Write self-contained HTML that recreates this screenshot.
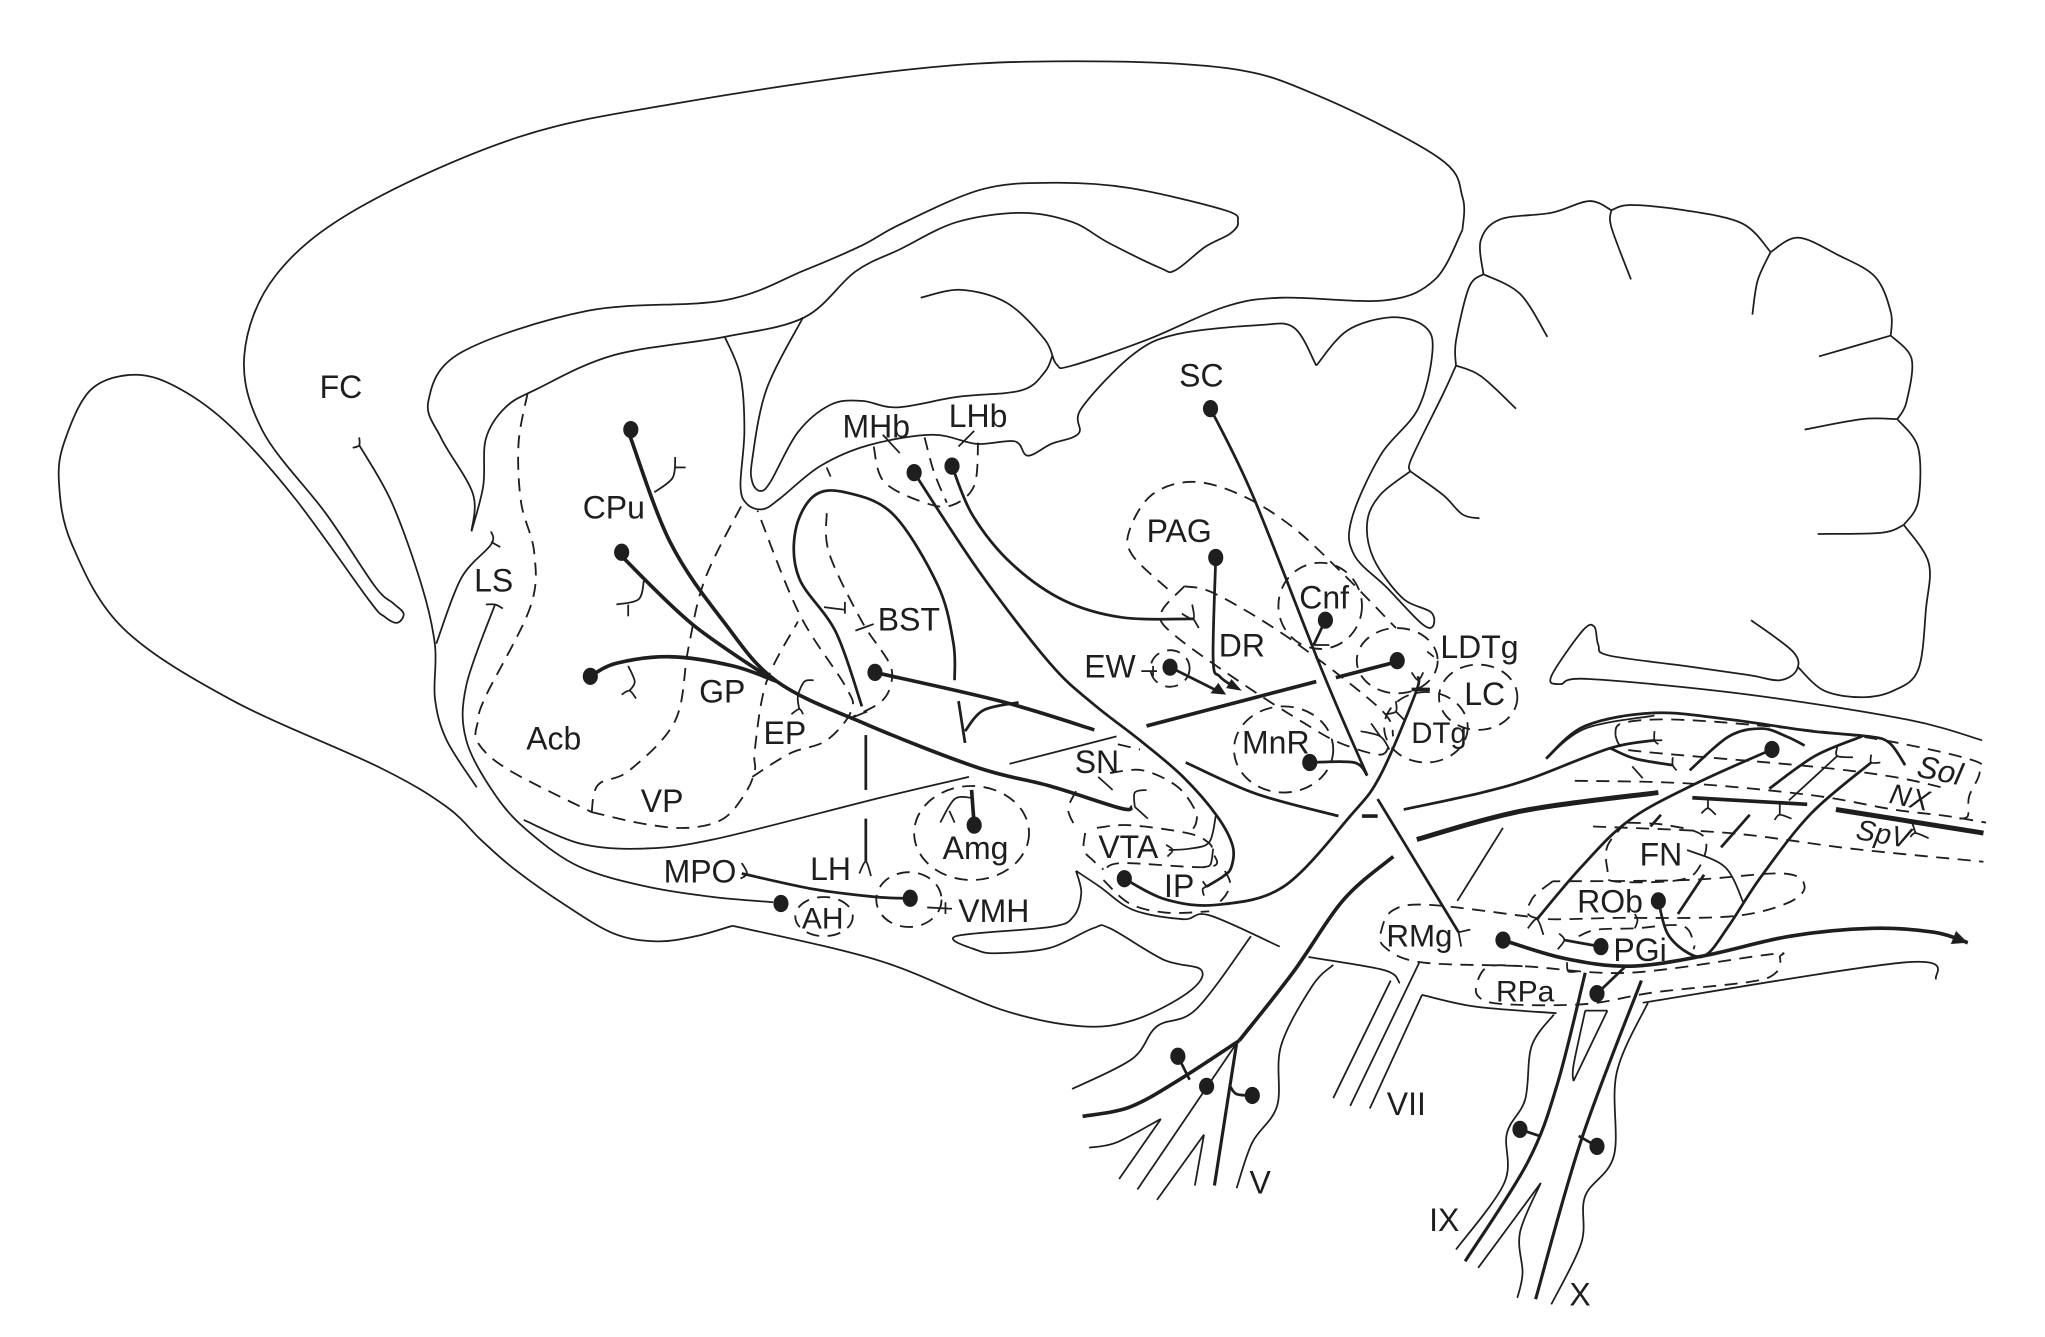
<!DOCTYPE html>
<html><head><meta charset="utf-8"><style>
html,body{margin:0;padding:0;background:#fff}
svg{display:block}
text{font-family:"Liberation Sans",sans-serif;font-size:24.5px;fill:#1e1e1e;text-anchor:middle}
path{fill:none;stroke:#1e1e1e;stroke-linecap:butt;stroke-linejoin:round}
.t path{stroke-width:1.35}
.d path{stroke-width:1.4;stroke-dasharray:10 6.5}
.m path{stroke-width:2.1}
.n path{stroke-width:2.4}
.b path{stroke-width:2.8}
.x path{stroke-width:3.8}
.f path{stroke-width:1.35}
ellipse.dot{fill:#1e1e1e}
ellipse.da{fill:none;stroke:#1e1e1e;stroke-width:1.4;stroke-dasharray:10 6.5}
polygon{fill:#1e1e1e}
</style></head><body>
<svg xmlns="http://www.w3.org/2000/svg" width="2045" height="1337" viewBox="0 0 1566 1024">
<g class="t s">
<path d="M 1120 176 L 1120 151 L 1102 121 L 1011 74 L 938 52 L 806 47 L 689 54 L 519 79 L 397 105 L 275 159 L 211 211 L 187 272 L 201 330 L 250 394 L 287 449 L 301 462 L 309 470 L 304 477 L 294 472 L 282 459 L 226 382 L 177 327 L 138 298 L 104 287 L 70 298 L 50 336 L 45 369 L 55 417 L 94 481 L 177 536 L 291 588 L 342 618 L 368 643 L 393 665 L 431 692 L 470 715 L 503 721 L 533 717 L 561 709"/>
<path d="M 561 709 L 674 736 L 766 773 L 828 786 L 869 781 L 910 760 L 920 743 L 891 735 L 850 711 L 837 711 L 804 726 L 766 730 L 749 728 L 732 717 L 804 710 L 822 702 L 828 684 L 824 667 M 824 667 L 842 679 L 868 697 L 906 704 L 926 701 L 980 725"/>
<path d="M 958 717 L 916 773 L 886 786 L 867 811 L 821 834"/>
<path d="M 270 343 L 275 341 L 275 335 M 275 341 L 300 385 L 323 449 L 333 494 L 333 535 L 342 567 L 365 603"/>
<path d="M 361 407 L 362 378 L 338 336 L 328 307 L 353 270 L 450 238 L 555 230 L 616 207 L 660 188 L 689 172 L 752 145 L 806 140 L 865 144 L 938 161 L 948 170 L 942 179 L 923 189 L 900 207 L 888 205 L 849 186 L 821 170 L 783 163 L 733 170 L 689 191 L 655 208 L 616 243 L 555 258 L 470 272 L 411 298 L 387 312 L 372 336 L 370 372 L 361 407"/>
<path d="M 555 258 L 567 288 L 570 330 L 567 372 L 572 386 L 584 390 L 597 382 L 628 357 L 665 341 L 714 333 L 748 340 L 777 338 L 787 349 L 805 340 L 826 332 L 828 313 L 867 272 L 901 256 L 964 249 L 991 251 L 1008 280"/>
<path d="M 1008 280 L 1032 253 L 1066 243 L 1091 250 L 1097 269 L 1086 313 L 1057 349 L 1035 398 L 1037 425 L 1062 450 L 1088 477 L 1097 480 L 1096 469 L 1074 458 L 1052 428 L 1047 400 L 1057 379 L 1080 361"/>
<path d="M 615 243 L 587 298 L 576 352 L 576 369 L 582 376 L 590 369 L 611 331 L 636 310 L 660 307 L 687 312 L 733 304 L 782 299 L 800 285 L 806 272"/>
<path d="M 705 228 L 736 222 L 771 232 L 800 260 L 809 279 L 821 280 L 879 260 L 938 235 L 982 228 L 1061 230 L 1099 214 L 1120 176"/>
<path d="M 1080 361 L 1081 351 L 1105 302 L 1115 280 M 1115 280 L 1115 261 L 1125 220 L 1136 210 M 1136 210 L 1134 184 L 1149 168 L 1188 163 L 1217 154 L 1234 161 M 1234 161 L 1249 157 L 1290 161 L 1334 171 L 1356 193 M 1356 193 L 1377 182 L 1407 195 L 1436 212 L 1448 239 L 1448 257 M 1448 257 L 1464 275 L 1460 308 L 1453 321 M 1453 321 L 1469 343 L 1469 384 L 1458 402 M 1458 402 L 1477 431 L 1475 466 L 1469 513 L 1450 529 L 1426 534 L 1397 529 L 1377 511"/>
<path d="M 1341 475 L 1373 499 L 1376 513 L 1363 521 L 1339 517 L 1290 510 L 1232 502 L 1224 494 L 1221 480 L 1212 483 L 1188 518 L 1195 524 L 1217 520 L 1339 532 L 1460 551 L 1518 567"/>
<path d="M 1234 161 L 1234 174 L 1249 214"/><path d="M 1356 193 L 1346 215 L 1342 241"/><path d="M 1136 210 L 1164 225 L 1185 258"/><path d="M 1115 280 L 1134 288 L 1161 313"/><path d="M 1080 361 L 1105 379 L 1120 394 L 1133 397"/><path d="M 1448 257 L 1393 273"/><path d="M 1453 321 L 1426 321 L 1382 329"/><path d="M 1458 402 L 1441 408 L 1392 409"/>
<path d="M 379 463 L 357 525 L 357 567 L 380 610 L 406 638 L 444 664 L 495 679 L 546 687 L 592 691"/>
<path d="M 372 463 L 379 463 L 385 466"/>
<path d="M 334 493 L 353 443 L 376 417 L 376 407 M 376 415 L 383 419"/>
<path d="M 401 628 L 444 646 L 490 650 L 546 643 L 674 611 L 742 595"/>
<path d="M 773 585 L 855 564"/>
<path d="M 1002 733 L 1060 743 L 1072 753"/><path d="M 1021 739 L 1005 755 L 981 801 L 978 847 L 959 875 L 947 910"/>
<path d="M 1065 751 L 1021 841"/><path d="M 1087 737 L 1034 847"/><path d="M 1089 762 L 1049 849"/>
<path d="M 1089 762 L 1130 771 L 1192 776"/><path d="M 1258 768 L 1460 737 L 1483 750"/>
<path d="M 1151 634 L 1116 690"/>
<path d="M 1190 777 L 1173 801 L 1168 842 L 1154 868 L 1152 906 L 1115 957"/>
<path d="M 1214 774 L 1231 774 M 1214 774 L 1205 816 L 1205 828 M 1205 828 L 1231 774"/>
<path d="M 1180 906 L 1132 971 M 1180 906 L 1164 944 L 1166 975 L 1162 994"/>
<path d="M 1262 768 L 1238 822 L 1236 885 L 1214 916 L 1211 952 L 1188 999"/>
<path d="M 947 799 L 871 911"/>
<path d="M 922 869 L 886 919 M 922 869 L 915 908"/>
<path d="M 889 857 L 857 903 M 889 857 L 855 875 L 834 879"/>
<path d="M 1184 581 L 1214 558 L 1267 548"/>
<path d="M 1292 651 L 1321 664 L 1335 691"/>
</g>
<g class="d s">
<path d="M 404 301 L 397 340 L 399 385 L 409 423 L 406 465 L 372 533 L 366 552 L 366 569 L 390 590 L 453 622"/>
<path d="M 453 622 L 458 601 L 482 590 L 517 552 L 527 497 L 540 443 L 570 383"/>
<path d="M 453 622 L 493 631 L 527 634 L 554 627 L 571 607 L 578 590 L 578 574 L 587 522 L 611 476"/>
<path d="M 576 595 L 605 577 L 633 567 L 652 544 L 647 525 L 612 470 L 580 391"/>
<path d="M 633 393 L 635 424 L 660 476 L 681 508 L 682 525 L 674 538 L 653 549"/>
<path d="M 669 342 L 677 369 L 708 385 L 729 387 L 746 372 L 749 339"/>
<path d="M 708 335 L 715 361 L 725 385"/>
<path d="M 894 451 L 867 425 L 865 406 L 882 379 L 913 369 L 950 379 L 989 403 L 1028 439 L 1069 481"/>
<path d="M 907 449 L 889 470 L 900 487 L 955 526 L 999 554 L 1026 569 L 1057 578 L 1064 569"/>
<path d="M 907 449 L 931 455 L 989 490 L 1057 543 L 1067 564"/>
<path d="M 824 606 L 818 620 L 824 634"/>
<path d="M 850 592 L 875 590 L 901 602 L 915 620 L 916 630 L 912 637"/>
<path d="M 856 570 L 873 574"/>
<path d="M 831 638 L 830 651 L 837 659 L 845 666"/>
<path d="M 840 634 L 865 632 L 909 638 L 925 645 L 929 653 L 926 664 L 860 661 L 846 666"/>
<path d="M 845 674 L 865 692 L 893 699 L 926 698"/>
<path d="M 938 667 L 942 676 L 939 685 L 932 693"/>
<path d="M 1237 563 L 1242 554 L 1277 551 L 1340 555 L 1431 565 L 1510 582 L 1516 592 L 1508 610 L 1507 625 L 1500 627"/>
<path d="M 1237 563 L 1242 572 L 1261 576 L 1387 587 L 1450 595 L 1491 604"/>
<path d="M 1206 598 L 1292 600 L 1387 609 L 1450 620 L 1491 625 L 1521 630"/>
<path d="M 1220 633 L 1324 638 L 1418 650 L 1519 660"/>
<path d="M 1245 630 L 1231 648 L 1231 666 L 1236 675 L 1286 674 L 1302 663 L 1305 641 L 1277 632 L 1245 630"/>
<path d="M 1189 675 L 1173 689 L 1176 703 L 1239 703 L 1324 702 L 1368 692 L 1382 679 L 1365 669 L 1292 674 L 1189 675"/>
<path d="M 1170 702 L 1094 693 L 1067 697 L 1058 712 L 1060 725 L 1088 737 L 1166 740 L 1248 745 L 1355 731 L 1363 733 L 1360 745 L 1340 752 L 1267 760 L 1214 769 L 1151 769 L 1132 763 L 1132 750 L 1141 740 L 1166 740"/>
<path d="M 1209 717 L 1223 712 L 1252 711 L 1288 709 L 1297 722 L 1297 727"/>
</g>
<ellipse class="da" cx="1011" cy="464" rx="32" ry="33"/>
<ellipse class="da" cx="1070" cy="506" rx="31" ry="25"/>
<ellipse class="da" cx="1132" cy="534" rx="30" ry="25"/>
<ellipse class="da" cx="1092" cy="557" rx="32" ry="27"/>
<ellipse class="da" cx="983" cy="574" rx="38" ry="33"/>
<ellipse class="da" cx="896" cy="512" rx="15" ry="14"/>
<ellipse class="da" cx="744" cy="638" rx="44" ry="36"/>
<ellipse class="da" cx="696" cy="689" rx="25" ry="21"/>
<ellipse class="da" cx="631" cy="702" rx="22" ry="15"/>
<g class="m s">
<path d="M 700 362 L 750 438 L 804 508 L 837 539 L 873 567 L 906 595 L 932 625 L 944 648 L 943 664 L 937 671 L 924 679"/>
<path d="M 729 357 L 745 395 L 775 432 L 815 460 L 860 473 L 914 474"/>
<path d="M 660 541 L 640 484 L 612 443 L 609 407 L 623 380 L 647 377 L 684 394 L 718 448 L 730 492 L 731 521"/>
<path d="M 734 537 L 739 569"/>
<path d="M 739 560 L 753 544 L 780 538"/>
<path d="M 663 563 L 663 605"/>
<path d="M 663 627 L 663 660"/>
<path d="M 927 313 L 960 381 L 1013 515 L 1047 594"/>
<path d="M 861 673 L 893 689 L 932 693 L 983 679 L 1034 625 L 1057 594 L 1084 531 L 1086 518"/>
<path d="M 1003 584 L 1037 584 L 1047 594"/>
<path d="M 908 584 L 962 608 L 1025 625"/>
<path d="M 1055 612 L 1117 714"/>
<path d="M 1075 620 L 1135 607 L 1173 596 L 1233 573 L 1267 567"/>
<path d="M 1233 573 L 1252 581 L 1281 586"/>
<path d="M 1357 574 L 1299 600 L 1248 628 L 1211 664 L 1177 704"/>
<path d="M 1294 590 L 1324 564 L 1349 558 L 1368 564 L 1382 571"/>
<path d="M 1355 604 L 1390 579 L 1426 564"/>
<path d="M 1433 584 L 1387 623 L 1349 671 L 1324 709 L 1307 731 L 1293 730 L 1277 715 L 1270 690"/>
<path d="M 1264 633 L 1272 624"/><path d="M 1318 649 L 1340 624"/><path d="M 1285 700 L 1305 670"/>
<path d="M 1226 725 L 1198 720"/>
<path d="M 1223 761 L 1245 740"/>
<path d="M 931 427 L 929 505 L 934 518 L 945 526"/>
<path d="M 896 511 L 936 531"/>
<path d="M 1015 475 L 1006 494"/>
<path d="M 1184 581 L 1214 556 L 1267 546 L 1324 551 L 1387 560 L 1431 564 L 1447 569 L 1459 586"/>
<path d="M 568 669 L 623 681 L 671 687 L 697 688"/>
<path d="M 1164 865 L 1179 870"/><path d="M 1223 878 L 1209 870"/>
<path d="M 959 839 L 947 838 L 942 832"/><path d="M 902 809 L 911 827"/>
</g>
<g class="n s">
<path d="M 947 799 L 930 908"/>
<path d="M 1257 751 L 1211 873 L 1176 995"/>
<path d="M 1214 745 L 1193 829 L 1170 890 L 1122 966"/>
</g>
<g class="b s">
<path d="M 482 333 L 513 415 L 554 476 L 595 522 L 664 555 L 749 588 L 804 602 L 858 619 L 867 618"/>
<path d="M 476 426 L 530 478 L 592 521"/>
<path d="M 452 518 L 472 508 L 513 503 L 561 510 L 595 522"/>
<path d="M 670 515 L 766 537 L 838 559"/>
<path d="M 744 605 L 746 632"/>
<path d="M 878 556 L 1008 522"/><path d="M 1023 519 L 1069 507"/>
<path d="M 1043 625 L 1055 625"/>
<path d="M 1081 528 L 1095 528"/>
<path d="M 1151 720 L 1198 734 L 1248 740 L 1305 732 L 1371 717 L 1434 711 L 1481 714 L 1507 722"/>
<path d="M 1067 656 L 1029 689 L 990 745 L 949 797"/>
<path d="M 949 797 L 903 827 L 865 848 L 829 855"/>
<path d="M 1296 611 L 1384 616"/>
</g>
<g class="x s">
<path d="M 1085 643 L 1166 621 L 1270 607"/>
<path d="M 1406 620 L 1519 638"/>
</g>
<g class="f s">
<path d="M 501 377 L 515 366 L 517 350"/><path d="M 517 358 L 525 358"/>
<path d="M 493 445 L 489 459 L 472 463"/><path d="M 481 463 L 481 472"/>
<path d="M 481 510 L 486 522 L 482 529"/><path d="M 476 532 L 482 529 L 487 535"/>
<path d="M 623 521 L 616 522 L 611 533 L 612 543"/><path d="M 606 547 L 612 543 L 615 547"/>
<path d="M 631 465 L 647 467"/><path d="M 647 461 L 647 470"/>
<path d="M 655 483 L 669 478"/>
<path d="M 654 549 L 664 545"/>
<path d="M 676 333 L 689 347"/><path d="M 746 330 L 734 342"/><path d="M 633 358 L 636 365"/>
<path d="M 658 669 L 663 660 L 667 671"/>
<path d="M 567 673 L 572 669 L 568 661"/>
<path d="M 710 695 L 729 696"/><path d="M 724 691 L 724 700"/>
<path d="M 874 514 L 886 514"/><path d="M 883 510 L 883 518"/>
<path d="M 905 470 L 914 474 L 913 463"/><path d="M 914 474 L 918 481"/>
<path d="M 869 618 L 869 607 L 878 605"/><path d="M 869 618 L 879 627"/>
<path d="M 841 595 L 852 605"/>
<path d="M 931 625 L 926 645 L 911 650 L 895 651"/><path d="M 893 647 L 898 651 L 894 656"/>
<path d="M 929 650 L 927 662 L 922 664"/>
<path d="M 924 679 L 921 675 M 924 679 L 921 681 L 922 686"/>
<path d="M 744 611 L 731 612 L 720 630"/><path d="M 727 621 L 731 630"/>
<path d="M 1006 494 L 1018 494"/>
<path d="M 1081 515 L 1086 521 L 1090 515"/>
<path d="M 1093 499 L 1098 503"/>
<path d="M 1069 537 L 1069 545 L 1061 547"/><path d="M 1069 545 L 1076 552"/>
<path d="M 1042 560 L 1057 564 L 1064 574"/><path d="M 1050 554 L 1057 564"/>
<path d="M 1267 560 L 1267 567 L 1270 570"/><path d="M 1267 567 L 1273 567"/>
<path d="M 1281 580 L 1281 586 L 1284 590"/>
<path d="M 1250 587 L 1258 596"/>
<path d="M 1308 613 L 1308 619"/><path d="M 1303 623 L 1308 619 L 1314 624"/>
<path d="M 1363 616 L 1363 624"/><path d="M 1359 628 L 1363 624 L 1372 627"/>
<path d="M 1464 629 L 1467 638"/><path d="M 1463 641 L 1467 638 L 1477 642"/>
<path d="M 1370 613 L 1407 579"/><path d="M 1407 572 L 1407 579 L 1419 580"/>
<path d="M 1433 578 L 1433 584 L 1440 584"/>
<path d="M 1170 711 L 1177 704 L 1182 716"/>
<path d="M 1194 715 L 1198 720 L 1193 727"/>
<path d="M 1117 714 L 1119 725"/><path d="M 1117 714 L 1126 712"/>
<path d="M 1252 700 L 1254 705 L 1252 711"/>
<path d="M 1200 737 L 1201 744 L 1208 744"/>
</g>
<polygon points="951,529 939,527 943,520"/>
<polygon points="939,532 927,531 933,523"/>
<polygon points="1507,722 1494,723 1498,713"/>
<g>
<ellipse class="dot" cx="483" cy="329" rx="5.8" ry="6.6"/>
<ellipse class="dot" cx="476" cy="423" rx="5.8" ry="6.6"/>
<ellipse class="dot" cx="452" cy="518" rx="5.8" ry="6.6"/>
<ellipse class="dot" cx="670" cy="515" rx="5.8" ry="6.6"/>
<ellipse class="dot" cx="700" cy="362" rx="5.8" ry="6.6"/>
<ellipse class="dot" cx="729" cy="357" rx="5.8" ry="6.6"/>
<ellipse class="dot" cx="927" cy="313" rx="5.8" ry="6.6"/>
<ellipse class="dot" cx="931" cy="427" rx="5.8" ry="6.6"/>
<ellipse class="dot" cx="1015" cy="475" rx="5.8" ry="6.6"/>
<ellipse class="dot" cx="1070" cy="506" rx="5.8" ry="6.6"/>
<ellipse class="dot" cx="896" cy="511" rx="5.8" ry="6.6"/>
<ellipse class="dot" cx="1003" cy="584" rx="5.8" ry="6.6"/>
<ellipse class="dot" cx="746" cy="632" rx="5.8" ry="6.6"/>
<ellipse class="dot" cx="861" cy="673" rx="5.8" ry="6.6"/>
<ellipse class="dot" cx="697" cy="688" rx="5.8" ry="6.6"/>
<ellipse class="dot" cx="598" cy="692" rx="5.8" ry="6.6"/>
<ellipse class="dot" cx="1357" cy="574" rx="5.8" ry="6.6"/>
<ellipse class="dot" cx="1270" cy="690" rx="5.8" ry="6.6"/>
<ellipse class="dot" cx="1151" cy="720" rx="5.8" ry="6.6"/>
<ellipse class="dot" cx="1226" cy="725" rx="5.8" ry="6.6"/>
<ellipse class="dot" cx="1223" cy="761" rx="5.8" ry="6.6"/>
<ellipse class="dot" cx="902" cy="809" rx="5.8" ry="6.6"/>
<ellipse class="dot" cx="924" cy="832" rx="5.8" ry="6.6"/>
<ellipse class="dot" cx="959" cy="839" rx="5.8" ry="6.6"/>
<ellipse class="dot" cx="1164" cy="865" rx="5.8" ry="6.6"/>
<ellipse class="dot" cx="1223" cy="878" rx="5.8" ry="6.6"/>
</g>
<text x="261" y="305">FC</text>
<text x="378" y="453">LS</text>
<text x="470" y="397">CPu</text>
<text x="553" y="538">GP</text>
<text x="424" y="574">Acb</text>
<text x="601" y="570">EP</text>
<text x="507" y="622">VP</text>
<text x="696" y="483">BST</text>
<text x="671" y="335">MHb</text>
<text x="749" y="327">LHb</text>
<text x="920" y="296">SC</text>
<text x="903" y="415">PAG</text>
<text x="1014" y="466">Cnf</text>
<text x="951" y="503">DR</text>
<text x="850" y="519">EW</text>
<text x="1133" y="504">LDTg</text>
<text x="1137" y="540">LC</text>
<text x="1102" y="569" style="font-size:22.5px">DTg</text>
<text x="977" y="577">MnR</text>
<text x="840" y="592">SN</text>
<text x="864" y="657">VTA</text>
<text x="903" y="687">IP</text>
<text x="747" y="658">Amg</text>
<text x="536" y="676">MPO</text>
<text x="636" y="674">LH</text>
<text x="761" y="706">VMH</text>
<text x="630" y="711" style="font-size:23px">AH</text>
<text x="1087" y="725" style="font-size:24px">RMg</text>
<text x="1272" y="663">FN</text>
<text x="1233" y="699">ROb</text>
<text x="1256" y="736">PGi</text>
<text x="1168" y="767" style="font-size:23px">RPa</text>
<text x="965" y="914">V</text>
<text x="1077" y="854">VII</text>
<text x="1106" y="943">IX</text>
<text x="1210" y="1000">X</text>
<text transform="translate(1484,598) rotate(12)" style="font-size:24px;font-style:italic">Sol</text>
<text transform="translate(1461,618) rotate(12)" style="font-size:22px;font-style:italic">NX</text>
<text transform="translate(1441,646) rotate(10)" style="font-size:22px;font-style:italic">SpV</text>
</svg>
<script>
document.querySelectorAll('.s path').forEach(function(p){
  var subs=p.getAttribute('d').split('M').slice(1),out='';
  subs.forEach(function(s){
    var n=s.replace(/L/g,' ').trim().split(/\s+/).map(Number),P=[];
    for(var i=0;i<n.length;i+=2)P.push([n[i],n[i+1]]);
    out+='M'+P[0][0]+' '+P[0][1];
    for(var i=0;i<P.length-1;i++){
      var a=P[Math.max(i-1,0)],b=P[i],c=P[i+1],d=P[Math.min(i+2,P.length-1)];
      out+=' C'+(b[0]+(c[0]-a[0])/6).toFixed(1)+' '+(b[1]+(c[1]-a[1])/6).toFixed(1)+' '+(c[0]-(d[0]-b[0])/6).toFixed(1)+' '+(c[1]-(d[1]-b[1])/6).toFixed(1)+' '+c[0]+' '+c[1];
    }
  });
  p.setAttribute('d',out);
});
</script>
</body></html>
